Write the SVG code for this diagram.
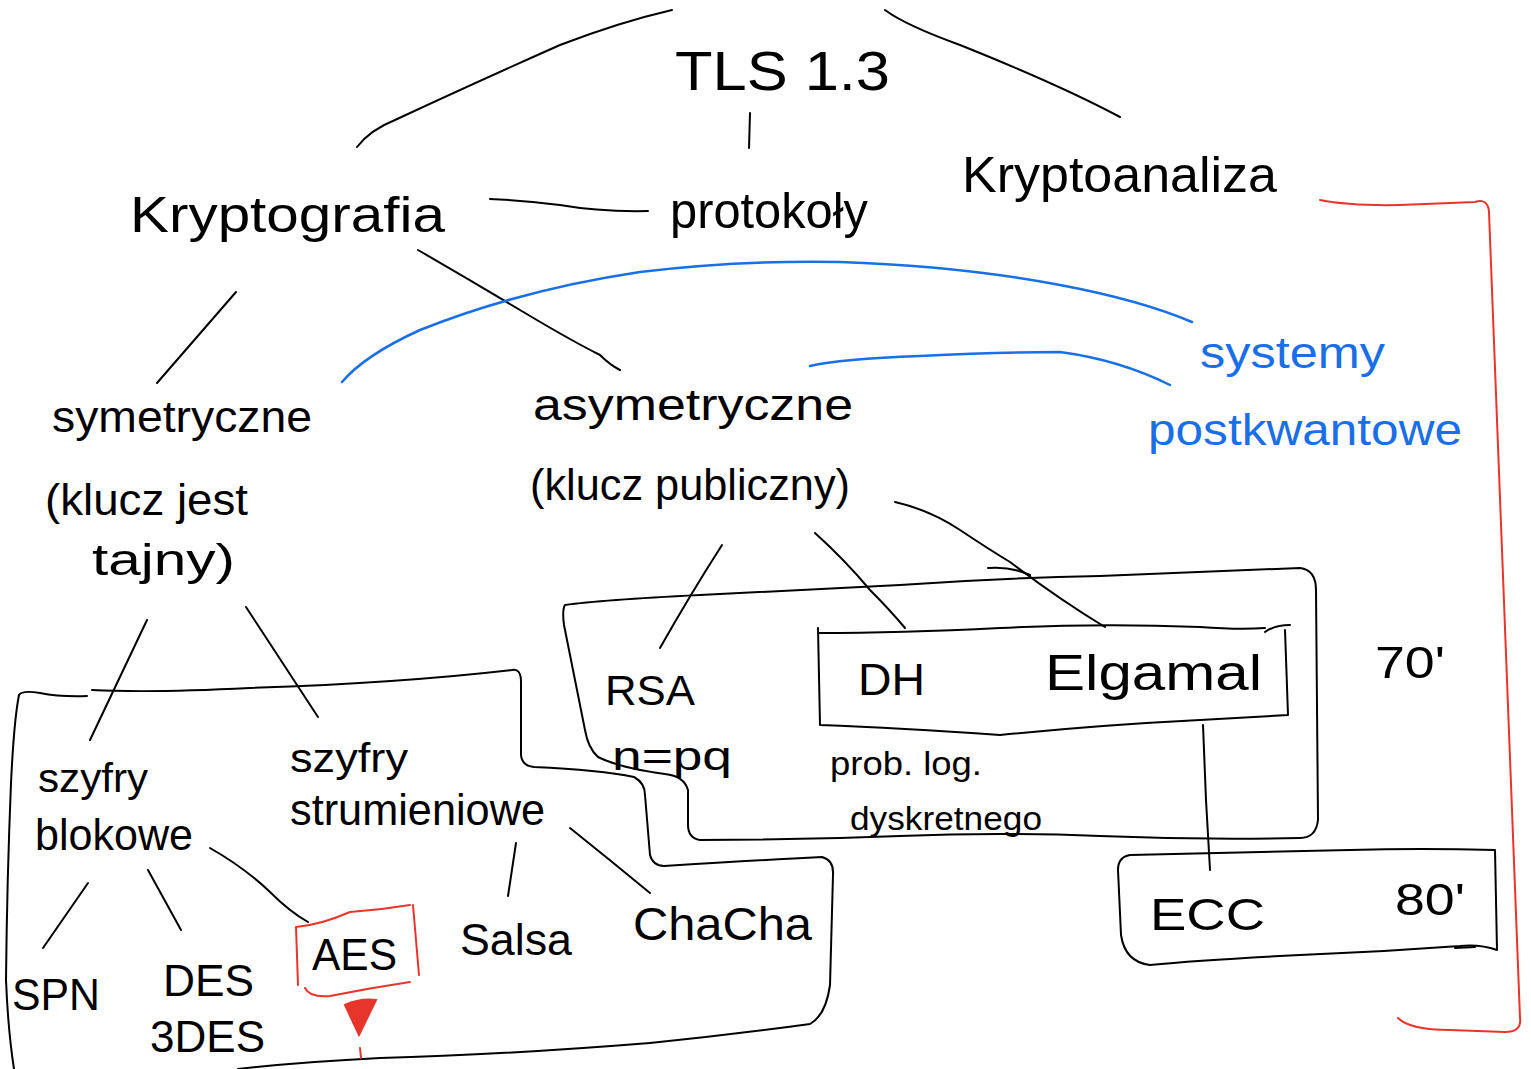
<svg xmlns="http://www.w3.org/2000/svg" width="1531" height="1069" viewBox="0 0 1531 1069">
<style>
.t{font-family:"Liberation Sans",Arial,sans-serif;fill:#000;font-weight:normal}
.b{fill:#1a6fe6}
.l{fill:none;stroke:#000;stroke-width:2;stroke-linecap:round;stroke-linejoin:round}
.lb{fill:none;stroke:#1a6fe6;stroke-width:2.5;stroke-linecap:round}
.lr{fill:none;stroke:#e8352b;stroke-width:2;stroke-linecap:round;stroke-linejoin:round}
</style>
<rect width="1531" height="1069" fill="#fff"/>
<g id="connectors">
<path class="l" d="M357,147 Q370,130 395,120 Q470,85 560,45 Q620,22 672,10"/>
<path class="l" d="M885,10 Q905,25 960,45 Q1060,85 1120,117"/>
<path class="l" d="M750,113 L749,148"/>
<path class="l" d="M490,199 Q520,200 560,205 Q600,212 648,211"/>
<path class="l" d="M236,292 L157,383"/>
<path class="l" d="M418,250 Q470,280 520,310 Q570,340 600,355 Q610,365 620,370"/>
<path class="l" d="M147,620 L90,740"/>
<path class="l" d="M246,607 L318,717"/>
<path class="l" d="M722,545 Q690,595 660,648"/>
<path class="l" d="M815,533 Q845,560 870,590 Q890,610 905,628"/>
<path class="l" d="M895,502 Q930,510 960,530 Q990,550 1010,562 Q1060,600 1105,627"/>
<path class="l" d="M988,568 Q1010,566 1030,575"/>
<path class="l" d="M88,883 L43,948"/>
<path class="l" d="M148,870 L181,930"/>
<path class="l" d="M210,848 Q245,868 270,892 Q290,912 308,922"/>
<path class="l" d="M516,843 L508,896"/>
<path class="l" d="M570,828 Q610,860 650,893"/>
<path class="l" d="M1203,725 L1206,800 L1210,870"/>
<path class="lb" d="M342,382 Q365,355 420,330 Q520,290 640,272 Q740,260 840,262 Q960,266 1060,285 Q1140,300 1192,322"/>
<path class="lb" d="M810,366 Q840,359 920,356 Q1000,352 1060,352 Q1120,360 1170,385"/>
<path class="lr" d="M1320,200 Q1350,206 1400,205 L1475,202 Q1488,198 1489,212 L1520,1018 Q1522,1032 1505,1032 L1450,1030 Q1410,1030 1398,1018"/>
</g>
<g id="box-symetryczne">
<path class="l" d="M19,695 Q22,690 40,693 Q60,697 87,696 M92,690 Q150,693 250,688 Q400,683 512,670 Q521,668 521,682 L521,755 Q522,766 534,767 Q600,770 634,777 Q645,783 645,795 L650,855 Q653,866 664,866 Q760,860 822,857 Q834,860 833,875 L830,985 Q826,1015 810,1024 Q730,1035 650,1043 Q500,1055 380,1058 Q300,1062 238,1069"/>
<path class="l" d="M19,695 Q14,720 11,783 Q7,880 6,980 Q8,1030 14,1069"/>
</g>
<g id="box-asymetryczne">
<path class="l" d="M565,605 Q600,600 700,595 Q800,590 900,585 Q1000,578 1100,576 Q1200,572 1300,568 Q1316,570 1316,590 L1318,820 Q1316,838 1300,838 Q1200,840 1100,836 Q1000,832 900,836 Q800,840 700,840 Q688,838 688,825 L688,790 Q684,776 665,774 Q620,768 598,757 Q588,748 585,730 L564,625 Q562,610 565,605"/>
</g>
<g id="box-dh-elgamal">
<path class="l" d="M818,628 L820,725 Q900,728 1000,735 Q1100,725 1200,720 L1288,715 L1285,630 M818,633 Q900,633 1000,628 Q1100,623 1200,627 Q1240,630 1265,628 M1265,632 Q1275,625 1290,625"/>
</g>
<g id="box-ecc">
<path class="l" d="M1130,855 Q1250,852 1350,850 Q1420,848 1495,850 L1497,950 Q1480,944 1460,946 Q1380,952 1300,955 Q1200,960 1150,965 Q1125,962 1121,935 L1118,870 Q1118,857 1130,855"/>
<path class="l" d="M1455,948 L1475,947"/>
</g>
<g id="tls"><text class="t" x="675" y="90" font-size="56" textLength="215" lengthAdjust="spacingAndGlyphs">TLS 1.3</text></g>
<g id="kryptografia"><text class="t" x="130" y="232" font-size="50" textLength="315" lengthAdjust="spacingAndGlyphs">Kryptografia</text></g>
<g id="protokoly"><text class="t" x="670" y="228" font-size="50" textLength="198" lengthAdjust="spacingAndGlyphs">protokoły</text></g>
<g id="kryptoanaliza"><text class="t" x="962" y="192" font-size="50" textLength="315" lengthAdjust="spacingAndGlyphs">Kryptoanaliza</text></g>
<g id="symetryczne">
<text class="t" x="52" y="432" font-size="44" textLength="260" lengthAdjust="spacingAndGlyphs">symetryczne</text>
<text class="t" x="45" y="515" font-size="44" textLength="203" lengthAdjust="spacingAndGlyphs">(klucz jest</text>
<text class="t" x="92" y="575" font-size="44" textLength="143" lengthAdjust="spacingAndGlyphs">tajny)</text>
</g>
<g id="asymetryczne">
<text class="t" x="533" y="420" font-size="44" textLength="320" lengthAdjust="spacingAndGlyphs">asymetryczne</text>
<text class="t" x="530" y="500" font-size="44" textLength="320" lengthAdjust="spacingAndGlyphs">(klucz publiczny)</text>
</g>
<g id="postkwantowe">
<text class="t b" x="1200" y="368" font-size="44" textLength="185" lengthAdjust="spacingAndGlyphs">systemy</text>
<text class="t b" x="1148" y="445" font-size="44" textLength="314" lengthAdjust="spacingAndGlyphs">postkwantowe</text>
</g>
<g id="blokowe">
<text class="t" x="38" y="792" font-size="40" textLength="110" lengthAdjust="spacingAndGlyphs">szyfry</text>
<text class="t" x="35" y="850" font-size="44" textLength="158" lengthAdjust="spacingAndGlyphs">blokowe</text>
</g>
<g id="strumieniowe">
<text class="t" x="290" y="772" font-size="40" textLength="118" lengthAdjust="spacingAndGlyphs">szyfry</text>
<text class="t" x="290" y="825" font-size="44" textLength="255" lengthAdjust="spacingAndGlyphs">strumieniowe</text>
</g>
<g id="spn"><text class="t" x="12" y="1010" font-size="44" textLength="88" lengthAdjust="spacingAndGlyphs">SPN</text></g>
<g id="des">
<text class="t" x="163" y="996" font-size="44" textLength="91" lengthAdjust="spacingAndGlyphs">DES</text>
<text class="t" x="150" y="1052" font-size="44" textLength="115" lengthAdjust="spacingAndGlyphs">3DES</text>
</g>
<g id="aes">
<path class="lr" d="M296,927 Q320,925 350,912 Q380,910 410,905 M296,927 L298,985 M413,905 L419,975 M305,988 Q310,998 330,996 Q370,988 410,982"/>
<path d="M345,1005 Q360,998 376,1000 L359,1035 Z" fill="#e8352b" stroke="#e8352b" stroke-width="2"/>
<path class="lr" d="M360,1048 L361,1058"/>
<text class="t" x="312" y="970" font-size="44" textLength="85" lengthAdjust="spacingAndGlyphs">AES</text>
</g>
<g id="salsa"><text class="t" x="460" y="955" font-size="44" textLength="112" lengthAdjust="spacingAndGlyphs">Salsa</text></g>
<g id="chacha"><text class="t" x="633" y="940" font-size="46" textLength="179" lengthAdjust="spacingAndGlyphs">ChaCha</text></g>
<g id="rsa">
<text class="t" x="605" y="705" font-size="42" textLength="90" lengthAdjust="spacingAndGlyphs">RSA</text>
<text class="t" x="612" y="770" font-size="40" textLength="120" lengthAdjust="spacingAndGlyphs">n=pq</text>
</g>
<g id="dh"><text class="t" x="858" y="695" font-size="44" textLength="67" lengthAdjust="spacingAndGlyphs">DH</text></g>
<g id="elgamal"><text class="t" x="1045" y="690" font-size="50" textLength="217" lengthAdjust="spacingAndGlyphs">Elgamal</text></g>
<g id="problog">
<text class="t" x="830" y="775" font-size="34" textLength="152" lengthAdjust="spacingAndGlyphs">prob. log.</text>
<text class="t" x="850" y="830" font-size="34" textLength="192" lengthAdjust="spacingAndGlyphs">dyskretnego</text>
</g>
<g id="ecc">
<text class="t" x="1150" y="930" font-size="44" textLength="115" lengthAdjust="spacingAndGlyphs">ECC</text>
<text class="t" x="1395" y="915" font-size="44" textLength="70" lengthAdjust="spacingAndGlyphs">80'</text>
</g>
<g id="era70"><text class="t" x="1375" y="678" font-size="44" textLength="70" lengthAdjust="spacingAndGlyphs">70'</text></g>
</svg>
